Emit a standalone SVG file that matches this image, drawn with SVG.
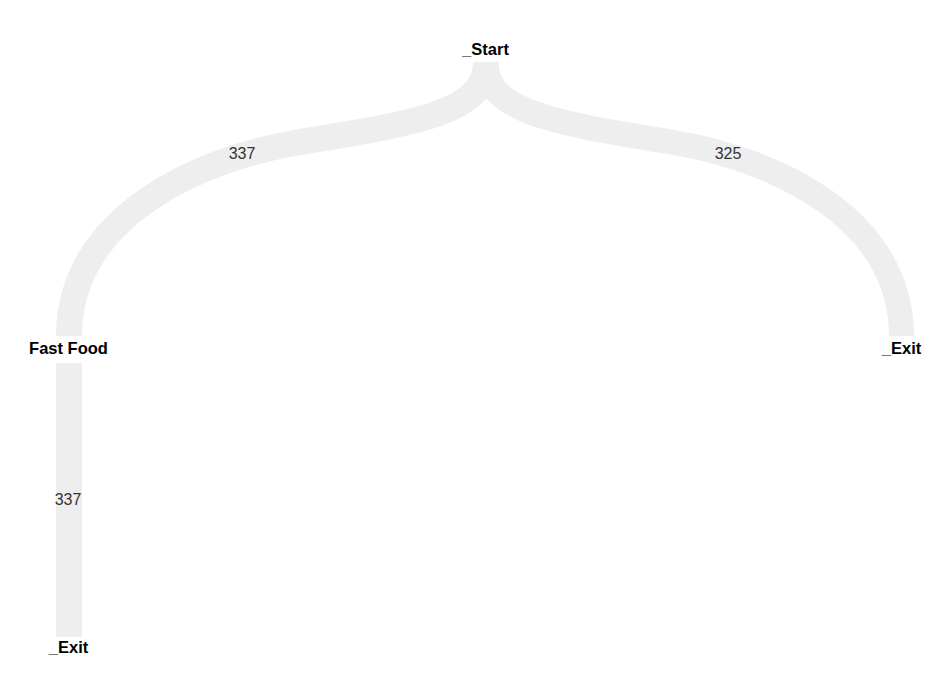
<svg xmlns="http://www.w3.org/2000/svg" width="949" height="685" viewBox="0 0 949 685">
<style>
.link{fill:none;stroke:#eeeeee;stroke-linecap:butt}
.node{font-family:"Liberation Sans",Arial,sans-serif;font-size:16.5px;font-weight:bold;fill:#000;text-anchor:middle}
.val{font-family:"Liberation Sans",Arial,sans-serif;font-size:16px;fill:#333;text-anchor:middle}
</style>
<rect width="949" height="685" fill="#ffffff"/>
<g id="connectors">
<path class="link" stroke-width="26" d="M486,62 C486,112 420,122.4 300,142 C200,158.3 69,216 69,336"/>
<path class="link" stroke-width="25" d="M486,62 C486,112 552,122.4 671,142 C771,158.3 901.5,216 901.5,336"/>
<path class="link" stroke-width="26" d="M69,363 L69,637"/>
<text class="val" x="242" y="159">337</text>
<text class="val" x="728" y="159">325</text>
<text class="val" x="68" y="505">337</text>
</g>
<g id="node-start"><text class="node" x="485.5" y="55">_Start</text></g>
<g id="node-fastfood"><text class="node" x="68.5" y="354">Fast Food</text></g>
<g id="node-exit-right"><text class="node" x="901.5" y="354">_Exit</text></g>
<g id="node-exit-bottom"><text class="node" x="68.5" y="653">_Exit</text></g>
</svg>
